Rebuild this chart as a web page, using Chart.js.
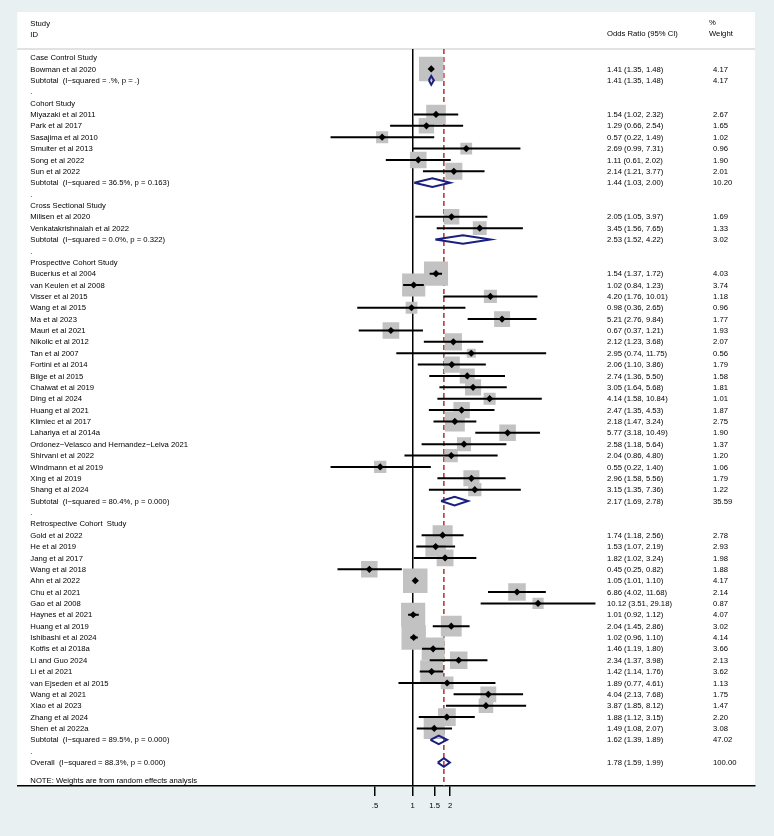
<!DOCTYPE html>
<html>
<head>
<meta charset="utf-8">
<script src="https://cdn.jsdelivr.net/npm/chart.js@4.4.1/dist/chart.umd.min.js"></script>
<style>
  html, body { margin: 0; padding: 0; background: #e8f0f2; }
  #wrap { width: 774px; height: 836px; }
</style>
</head>
<body>
<div id="wrap"><canvas id="forest"></canvas></div>
<script>
const groupNames = ["Case Control Study", "Cohort Study", "Cross Sectional Study",
  "Prospective Cohort Study", "Retrospective Cohort  Study"];

const studyNames = [
  "Bowman et al 2020",
  "Miyazaki et al 2011", "Park et al 2017", "Sasajima et al 2010", "Smulter et al 2013", "Song et al 2022", "Sun et al 2022",
  "Milisen et al 2020", "Venkatakrishnaiah et al 2022",
  "Bucerius et al 2004", "van Keulen et al 2008", "Visser et al 2015", "Wang et al 2015", "Ma et al 2023",
  "Mauri et al 2021", "Nikolic et al 2012", "Tan et al 2007", "Fortini et al 2014", "Bilge et al 2015",
  "Chaiwat et al 2019", "Ding et al 2024", "Huang et al 2021", "Klimiec et al 2017", "Lahariya et al 2014a",
  "Ordonez\u2212Velasco and Hernandez\u2212Leiva 2021", "Shirvani et al 2022", "Windmann et al 2019", "Xing et al 2019", "Shang et al 2024",
  "Gold et al 2022", "He et al 2019", "Jang et al 2017", "Wang et al 2018", "Ahn et al 2022", "Chu et al 2021",
  "Gao et al 2008", "Haynes et al 2021", "Huang et al 2019", "Ishibashi et al 2024", "Kotfis et al 2018a",
  "Li and Guo 2024", "Li et al 2021", "van Ejseden et al 2015", "Wang et al 2021", "Xiao et al 2023",
  "Zhang et al 2024", "Shen et al 2022a"
];
const studyGroup = [
  0,
  1, 1, 1, 1, 1, 1,
  2, 2,
  3, 3, 3, 3, 3, 3, 3, 3, 3, 3, 3, 3, 3, 3, 3, 3, 3, 3, 3, 3,
  4, 4, 4, 4, 4, 4, 4, 4, 4, 4, 4, 4, 4, 4, 4, 4, 4, 4
];
const studyOR = [
  1.41,
  1.54, 1.29, 0.57, 2.69, 1.11, 2.14,
  2.05, 3.45,
  1.54, 1.02, 4.20, 0.98, 5.21, 0.67, 2.12, 2.95, 2.06, 2.74, 3.05, 4.14, 2.47, 2.18, 5.77, 2.58, 2.04, 0.55, 2.96, 3.15,
  1.74, 1.53, 1.82, 0.45, 1.05, 6.86, 10.12, 1.01, 2.04, 1.02, 1.46, 2.34, 1.42, 1.89, 4.04, 3.87, 1.88, 1.49
];
const studyLow = [
  1.35,
  1.02, 0.66, 0.22, 0.99, 0.61, 1.21,
  1.05, 1.56,
  1.37, 0.84, 1.76, 0.36, 2.76, 0.37, 1.23, 0.74, 1.10, 1.36, 1.64, 1.58, 1.35, 1.47, 3.18, 1.18, 0.86, 0.22, 1.58, 1.35,
  1.18, 1.07, 1.02, 0.25, 1.01, 4.02, 3.51, 0.92, 1.45, 0.96, 1.19, 1.37, 1.14, 0.77, 2.13, 1.85, 1.12, 1.08
];
const studyHigh = [
  1.48,
  2.32, 2.54, 1.49, 7.31, 2.02, 3.77,
  3.97, 7.65,
  1.72, 1.23, 10.01, 2.65, 9.84, 1.21, 3.68, 11.75, 3.86, 5.50, 5.68, 10.84, 4.53, 3.24, 10.49, 5.64, 4.80, 1.40, 5.56, 7.36,
  2.56, 2.19, 3.24, 0.82, 1.10, 11.68, 29.18, 1.12, 2.86, 1.10, 1.80, 3.98, 1.76, 4.61, 7.68, 8.12, 3.15, 2.07
];
const studyWeight = [
  4.17,
  2.67, 1.65, 1.02, 0.96, 1.90, 2.01,
  1.69, 1.33,
  4.03, 3.74, 1.18, 0.96, 1.77, 1.93, 2.07, 0.56, 1.79, 1.58, 1.81, 1.01, 1.87, 2.75, 1.90, 1.37, 1.20, 1.06, 1.79, 1.22,
  2.78, 2.93, 1.98, 1.88, 4.17, 2.14, 0.87, 4.07, 3.02, 4.14, 3.66, 2.13, 3.62, 1.13, 1.75, 1.47, 2.20, 3.08
];

const subtotalI2 = [".%", "36.5%", "0.0%", "80.4%", "89.5%"];
const subtotalP = [".", "0.163", "0.322", "0.000", "0.000"];
const subtotalOR = [1.41, 1.44, 2.53, 2.17, 1.62];
const subtotalLow = [1.35, 1.03, 1.52, 1.69, 1.39];
const subtotalHigh = [1.48, 2.00, 4.22, 2.78, 1.89];
const subtotalWeight = [4.17, 10.20, 3.02, 35.59, 47.02];

const overallI2 = "88.3%";
const overallP = "0.000";
const overallOR = 1.78;
const overallLow = 1.59;
const overallHigh = 1.99;
const overallWeight = 100.00;

const tickValues = [0.5, 1, 1.5, 2];
const tickLabels = [".5", "1", "1.5", "2"];

// layout
const FONT = '"Liberation Sans", Arial, Helvetica, sans-serif';
const FS = 7.7;
const X_MIN = Math.exp(-7.293), X_MAX = Math.exp(6.317);
const Y_MIN = 0.244, Y_MAX = 65.06;

// build the rows (1 = first line under the header)
const textRows = [];
const studyRow = [];
const subRow = [];
let r = 1;
groupNames.forEach((g, gi) => {
  textRows.push({ y: r++, label: g });
  studyNames.forEach((name, i) => {
    if (studyGroup[i] !== gi) return;
    studyRow[i] = r;
    textRows.push({ y: r++, label: name, or: studyOR[i], lo: studyLow[i], hi: studyHigh[i], w: studyWeight[i] });
  });
  subRow[gi] = r;
  textRows.push({ y: r++, label: "Subtotal  (I\u2212squared = " + subtotalI2[gi] + ", p = " + subtotalP[gi] + ")",
    or: subtotalOR[gi], lo: subtotalLow[gi], hi: subtotalHigh[gi], w: subtotalWeight[gi] });
  textRows.push({ y: r++, label: "." });
});
const overallRow = r;
textRows.push({ y: r, label: "Overall  (I\u2212squared = " + overallI2 + ", p = " + overallP + ")",
  or: overallOR, lo: overallLow, hi: overallHigh, w: overallWeight });
textRows.push({ y: r + 1.6, label: "NOTE: Weights are from random effects analysis" });

// datasets from the arrays
const boxPoints = studyOR.map((v, i) => ({ x: v, y: studyRow[i] }));
const boxRadius = studyWeight.map(w => 12 * Math.sqrt(w) / Math.SQRT2);
const ciLines = [];
studyOR.forEach((v, i) => {
  ciLines.push({ x: studyLow[i], y: studyRow[i] });
  ciLines.push({ x: studyHigh[i], y: studyRow[i] });
  ciLines.push({ x: v, y: NaN });
});
const pooled = [];
const h = 0.38;
function addDiamond(est, lo, hi, row) {
  pooled.push({ x: lo, y: row }, { x: est, y: row - h }, { x: hi, y: row },
    { x: est, y: row + h }, { x: lo, y: row }, { x: est, y: NaN });
}
subtotalOR.forEach((v, gi) => addDiamond(v, subtotalLow[gi], subtotalHigh[gi], subRow[gi]));
addDiamond(overallOR, overallLow, overallHigh, overallRow);

const fmt = v => v.toFixed(2);

const forestText = {
  id: "forestText",
  beforeDraw(chart) {
    const c = chart.ctx, a = chart.chartArea;
    c.save();
    c.fillStyle = "#e8f0f2";
    c.fillRect(0, 0, chart.width, chart.height);
    c.fillStyle = "#ffffff";
    c.fillRect(a.left, 12, a.right - a.left, a.bottom - 12);
    c.strokeStyle = "#c6c6c6";
    c.lineWidth = 1.2;
    c.beginPath();
    c.moveTo(a.left, a.top);
    c.lineTo(a.right, a.top);
    c.stroke();
    c.restore();
  },
  afterDraw(chart) {
    const c = chart.ctx, a = chart.chartArea, ys = chart.scales.y;
    const labelX = a.left + 13, orX = 607, wtX = 713, wtHeadX = 709;
    c.save();
    c.font = FS + "px " + FONT;
    c.fillStyle = "#000";
    c.textBaseline = "middle";
    c.textAlign = "left";
    c.fillText("Study", labelX, 24);
    c.fillText("ID", labelX, 35);
    c.fillText("Odds Ratio (95% CI)", orX, 34);
    c.fillText("%", wtHeadX, 23);
    c.fillText("Weight", wtHeadX, 34);
    textRows.forEach(row => {
      const y = ys.getPixelForValue(row.y) + 0.5;
      c.fillText(row.label, labelX, y);
      if (row.or !== undefined) {
        c.fillText(fmt(row.or) + " (" + fmt(row.lo) + ", " + fmt(row.hi) + ")", orX, y);
        c.fillText(fmt(row.w), wtX, y);
      }
    });
    c.restore();
  }
};

new Chart(document.getElementById("forest"), {
  type: "scatter",
  data: {
    datasets: [
      {
        type: "line",
        data: pooled,
        borderColor: "#1a1f80",
        borderWidth: 2,
        pointRadius: 0,
        fill: false,
        order: 1
      },
      {
        data: boxPoints,
        pointStyle: "rectRot",
        pointRadius: 3.6,
        backgroundColor: "#000",
        borderWidth: 0,
        order: 2
      },
      {
        type: "line",
        data: ciLines,
        borderColor: "#000",
        borderWidth: 2,
        borderCapStyle: "butt",
        pointRadius: 0,
        fill: false,
        order: 3
      },
      {
        data: boxPoints,
        pointStyle: "rect",
        pointRadius: boxRadius,
        backgroundColor: "#c2c2c2",
        borderWidth: 0,
        order: 4
      },
      {
        type: "line",
        data: [{ x: overallOR, y: Y_MIN }, { x: overallOR, y: Y_MAX }],
        borderColor: "#a83232",
        borderWidth: 1.5,
        borderDash: [5, 3],
        pointRadius: 0,
        fill: false,
        order: 5
      }
    ]
  },
  options: {
    responsive: true,
    maintainAspectRatio: false,
    animation: false,
    events: [],
    layout: { padding: { left: 16, right: 19, top: 49, bottom: 0 } },
    plugins: { legend: { display: false }, tooltip: { enabled: false } },
    scales: {
      x: {
        type: "logarithmic",
        min: X_MIN,
        max: X_MAX,
        bounds: "data",
        afterBuildTicks: s => { s.ticks = tickValues.map(v => ({ value: v })); },
        afterFit: s => { s.height = 50; },
        ticks: {
          autoSkip: false,
          maxRotation: 0,
          padding: 5,
          color: "#000",
          font: { family: FONT, size: FS },
          callback: (v, i) => tickLabels[i]
        },
        grid: {
          drawOnChartArea: true,
          color: ctx => (ctx.tick && ctx.tick.value === 1) ? "#000" : "rgba(0,0,0,0)",
          lineWidth: 1.5,
          tickColor: "#000",
          tickWidth: 1.5,
          tickLength: 10
        },
        border: { display: true, color: "#000", width: 1.5 }
      },
      y: {
        type: "linear",
        reverse: true,
        min: Y_MIN,
        max: Y_MAX,
        display: false
      }
    }
  },
  plugins: [forestText]
});
</script>
</body>
</html>
